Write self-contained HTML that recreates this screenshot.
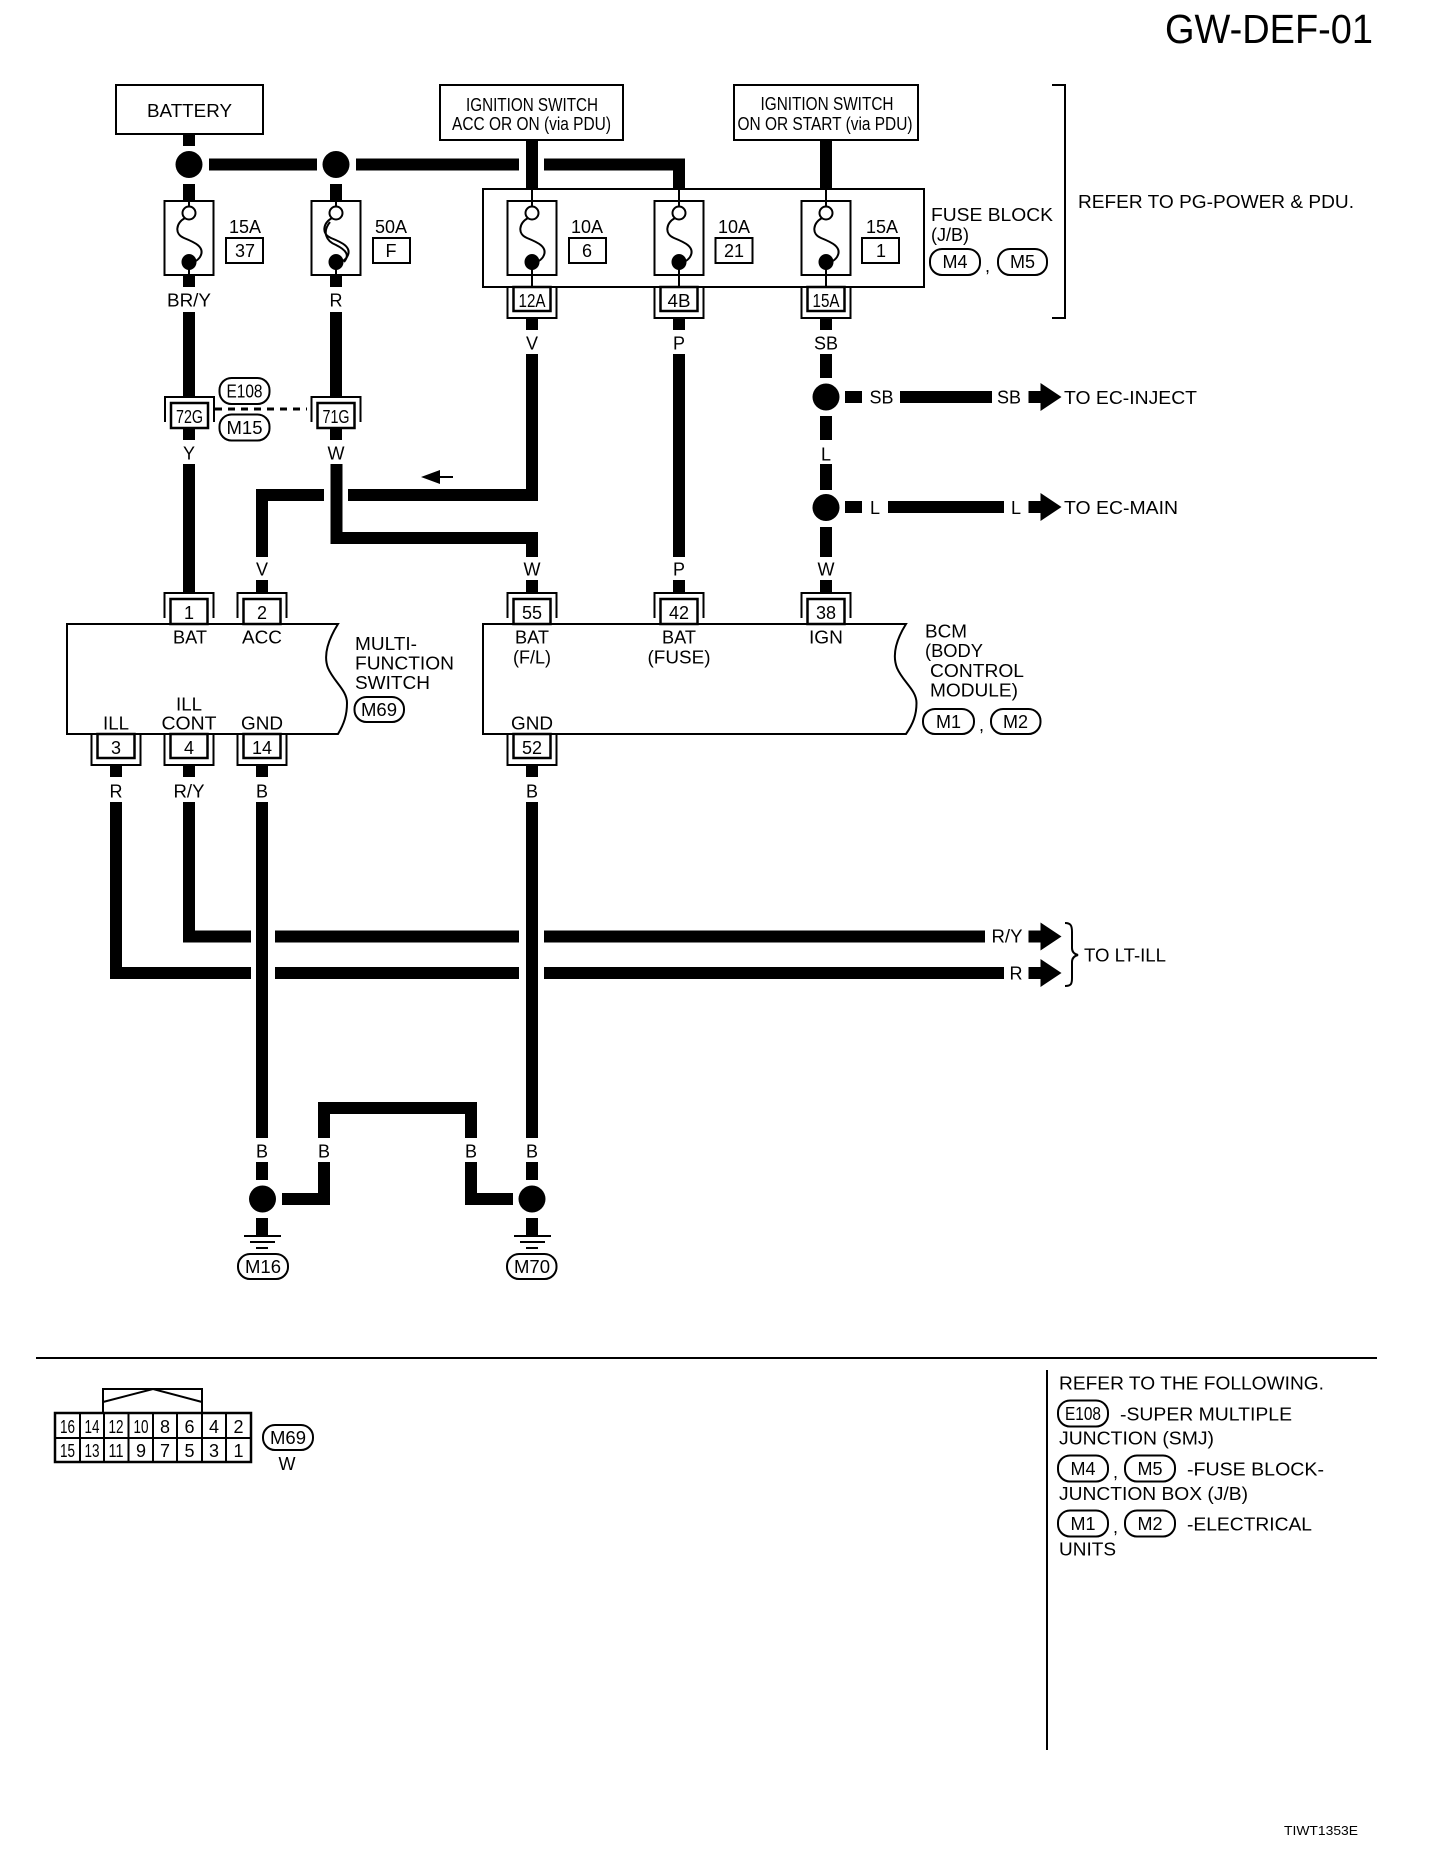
<!DOCTYPE html>
<html><head><meta charset="utf-8"><style>
html,body{margin:0;padding:0;background:#fff}
svg{display:block}
text{font-family:"Liberation Sans",sans-serif;font-size:18px;fill:#000}
.c{text-anchor:middle}
.w{fill:none;stroke:#000;stroke-width:12;stroke-linejoin:miter}
.t{fill:none;stroke:#000;stroke-width:2}
.b{fill:#fff;stroke:#000;stroke-width:2}
.k{fill:#fff;stroke:#000;stroke-width:2.5}
.s{font-size:18px}
</style></head><body>
<svg xmlns="http://www.w3.org/2000/svg" width="1440" height="1856" viewBox="0 0 1440 1856">
<defs>
<g id="fuse"><rect class="b" x="-24.5" y="0" width="49" height="74" stroke-width="2.5"/><path class="t" d="M0 0V7M0 62V74"/><circle class="b" cx="0" cy="12" r="6.5"/><ellipse cx="0" cy="61" rx="7.5" ry="8"/><path class="t" d="M-4 17C-13 22-15 33-5 37C5 41 17 46 11 56C9 59 7 60 5 61"/></g>
<g id="top"><path class="t" d="M-24.5 25V0H24.5V25"/><rect class="k" x="-18.5" y="6" width="37" height="25"/></g>
<g id="bot"><path class="t" d="M-24.5 0V31H24.5V0"/><rect class="k" x="-18.5" y="0" width="37" height="24"/></g>
<g id="arrow"><path d="M0-6H12V-14L33 0L12 14V6H0Z"/></g>
</defs>

<text x="1373" y="43" text-anchor="end" style="font-size:41px" textLength="208" lengthAdjust="spacingAndGlyphs">GW-DEF-01</text>

<!-- top boxes -->
<rect class="b" x="116" y="85" width="147" height="49"/>
<text class="c" x="189.5" y="117" textLength="85" lengthAdjust="spacingAndGlyphs">BATTERY</text>
<rect class="b" x="440" y="85" width="183" height="55"/>
<text class="c" x="532" y="111" textLength="132" lengthAdjust="spacingAndGlyphs">IGNITION SWITCH</text>
<text class="c" x="531.5" y="130" textLength="159" lengthAdjust="spacingAndGlyphs">ACC OR ON (via PDU)</text>
<rect class="b" x="734" y="85" width="184" height="55"/>
<text class="c" x="827" y="110" textLength="133" lengthAdjust="spacingAndGlyphs">IGNITION SWITCH</text>
<text class="c" x="825" y="130" textLength="175" lengthAdjust="spacingAndGlyphs">ON OR START (via PDU)</text>
<path class="t" d="M1052 85H1065V318H1052"/>
<text x="1078" y="208" textLength="276" lengthAdjust="spacingAndGlyphs">REFER TO PG-POWER &amp; PDU.</text>

<!-- main wires -->
<path class="w" d="M189 134V146M189 184V201M189 275V287M336 184V201M336 275V287"/>
<path class="w" d="M209 164.5H317M356 164.5H519M544 164.5H679V189M532 140V189M826 140V189"/>
<rect class="b" x="483" y="189" width="441" height="98"/>
<ellipse cx="189" cy="164.5" rx="13.5" ry="13.5"/>
<ellipse cx="336" cy="164.5" rx="13.5" ry="13.5"/>

<use href="#fuse" x="189" y="201"/>
<use href="#fuse" x="336" y="201"/>
<path class="t" d="M330 222C322 232 326 241 336 245C346 250 350 255 344 262"/>
<path class="t" d="M532 189V201M679 189V201M826 189V201"/>
<use href="#fuse" x="532" y="201"/>
<use href="#fuse" x="679" y="201"/>
<use href="#fuse" x="826" y="201"/>
<path class="t" d="M532 275V287M679 275V287M826 275V287"/>

<!-- fuse labels -->
<text class="c" x="245" y="233">15A</text><rect class="b" x="226" y="238" width="37" height="25"/><text class="c" x="245" y="257">37</text>
<text class="c" x="391" y="233">50A</text><rect class="b" x="373" y="238" width="37" height="25"/><text class="c" x="391" y="257">F</text>
<text class="c" x="587" y="233">10A</text><rect class="b" x="569" y="238" width="37" height="25"/><text class="c" x="587" y="257">6</text>
<text class="c" x="734" y="233">10A</text><rect class="b" x="715.5" y="238" width="37" height="25"/><text class="c" x="734" y="257">21</text>
<text class="c" x="882" y="233">15A</text><rect class="b" x="862" y="238" width="37" height="25"/><text class="c" x="881" y="257">1</text>

<text x="931" y="221" textLength="122" lengthAdjust="spacingAndGlyphs">FUSE BLOCK</text>
<text x="931" y="241">(J/B)</text>
<rect class="b" x="930" y="249" width="50" height="26" rx="12"/><text class="c" x="955" y="268">M4</text>
<text x="985" y="272">,</text>
<rect class="b" x="998" y="249" width="49" height="26" rx="12"/><text class="c" x="1022.5" y="268">M5</text>

<!-- connectors under fuse block -->
<use href="#bot" x="532" y="287"/><text class="c s" x="532" y="307" textLength="27" lengthAdjust="spacingAndGlyphs">12A</text>
<use href="#bot" x="679" y="287"/><text class="c" x="679" y="307" textLength="23" lengthAdjust="spacingAndGlyphs">4B</text>
<use href="#bot" x="826" y="287"/><text class="c s" x="826" y="307" textLength="27" lengthAdjust="spacingAndGlyphs">15A</text>

<!-- wire colour labels row -->
<text class="c" x="189" y="306.5" textLength="44" lengthAdjust="spacingAndGlyphs">BR/Y</text>
<text class="c" x="336" y="306.5">R</text>
<text class="c" x="532" y="349.5">V</text>
<text class="c" x="679" y="349.5">P</text>
<text class="c" x="826" y="349.5">SB</text>

<path class="w" d="M189 312V397M336 312V397"/>
<path class="w" d="M532 318V330M679 318V330M826 318V330"/>
<path d="M526 354H538V501H348V489H526Z"/>
<path d="M324 489V501H268V557H256V489Z"/>
<path class="w" d="M679 354V557M826 354V378M826 416V440M826 464V490M826 527V557"/>

<!-- 72G 71G -->
<use href="#top" x="189.5" y="397"/><text class="c s" x="189.5" y="423" textLength="27" lengthAdjust="spacingAndGlyphs">72G</text>
<use href="#top" x="336" y="397"/><text class="c s" x="336" y="423" textLength="27" lengthAdjust="spacingAndGlyphs">71G</text>
<path d="M215 409H307" fill="none" stroke="#000" stroke-width="3" stroke-dasharray="7 6"/>
<rect class="b" x="219.5" y="378" width="50" height="26" rx="12"/><text class="c s" x="244.5" y="397.5" textLength="36" lengthAdjust="spacingAndGlyphs">E108</text>
<rect class="b" x="219.5" y="414.5" width="50" height="26" rx="12"/><text class="c s" x="244.5" y="434" textLength="36" lengthAdjust="spacingAndGlyphs">M15</text>
<path class="w" d="M189 428V440M336 428V440"/>
<text class="c" x="189" y="459.5">Y</text>
<text class="c" x="336" y="459.5">W</text>

<!-- SB/L lines -->
<ellipse cx="826" cy="397" rx="13.5" ry="13.5"/>
<ellipse cx="826" cy="507.5" rx="13.5" ry="13.5"/>
<text class="c" x="826" y="460.5">L</text>
<path d="M845 391H862V403H845ZM900 391H992V403H900Z"/>
<text class="c" x="881.5" y="403.5">SB</text>
<text class="c" x="1009" y="403.5">SB</text>
<use href="#arrow" x="1028.5" y="397"/>
<text x="1064" y="404" textLength="133" lengthAdjust="spacingAndGlyphs">TO EC-INJECT</text>
<path d="M845 501H862V513H845ZM888 501H1004V513H888Z"/>
<text class="c" x="875" y="514">L</text>
<text class="c" x="1016" y="514">L</text>
<use href="#arrow" x="1028.5" y="507"/>
<text x="1064" y="514" textLength="114" lengthAdjust="spacingAndGlyphs">TO EC-MAIN</text>

<!-- small arrow -->
<path d="M421 477L440 470V476H453V478H440V484Z"/>

<!-- A col, B col to modules -->
<path class="w" d="M189 464V593"/>
<path class="w" d="M336.5 464V538H532V557"/>
<text class="c" x="262" y="575.5">V</text>
<text class="c" x="532" y="575.5">W</text>
<text class="c" x="679" y="575.5">P</text>
<text class="c" x="826" y="575.5">W</text>
<path class="w" d="M262 580V593M532 580V593M679 580V593M826 580V593"/>

<!-- modules -->
<path class="b" d="M67 624H338C328 640 323 655 328 668C334 682 347 690 347 703C347 715 344 724 338 734H67Z"/>
<path class="b" d="M483 624H906C896 640 892 655 897 668C903 682 916.5 690 916.5 703C916.5 715 913 724 906 734H483Z"/>

<use href="#top" x="189" y="593"/><text class="c" x="189" y="619">1</text>
<use href="#top" x="262" y="593"/><text class="c" x="262" y="619">2</text>
<use href="#top" x="532" y="593"/><text class="c" x="532" y="619">55</text>
<use href="#top" x="679" y="593"/><text class="c" x="679" y="619">42</text>
<use href="#top" x="826" y="593"/><text class="c" x="826" y="619">38</text>
<path d="M67 624H338M483 624H906" stroke="#000" stroke-width="2"/>

<text class="c" x="190" y="643.5" textLength="34" lengthAdjust="spacingAndGlyphs">BAT</text>
<text class="c" x="262" y="643.5" textLength="40" lengthAdjust="spacingAndGlyphs">ACC</text>
<text class="c" x="532" y="643.5" textLength="34" lengthAdjust="spacingAndGlyphs">BAT</text>
<text class="c" x="532" y="663.5">(F/L)</text>
<text class="c" x="679" y="643.5" textLength="34" lengthAdjust="spacingAndGlyphs">BAT</text>
<text class="c" x="679" y="663.5" textLength="63" lengthAdjust="spacingAndGlyphs">(FUSE)</text>
<text class="c" x="826" y="643.5" textLength="34" lengthAdjust="spacingAndGlyphs">IGN</text>
<text class="c" x="116" y="729.5" textLength="26" lengthAdjust="spacingAndGlyphs">ILL</text>
<text class="c" x="189" y="710.5" textLength="26" lengthAdjust="spacingAndGlyphs">ILL</text>
<text class="c" x="189" y="729.5" textLength="55" lengthAdjust="spacingAndGlyphs">CONT</text>
<text class="c" x="262" y="729.5" textLength="42" lengthAdjust="spacingAndGlyphs">GND</text>
<text class="c" x="532" y="729.5" textLength="42" lengthAdjust="spacingAndGlyphs">GND</text>

<text x="355" y="650" textLength="62" lengthAdjust="spacingAndGlyphs">MULTI-</text>
<text x="355" y="669.5" textLength="99" lengthAdjust="spacingAndGlyphs">FUNCTION</text>
<text x="355" y="689" textLength="75" lengthAdjust="spacingAndGlyphs">SWITCH</text>
<rect class="b" x="354.5" y="697" width="49.5" height="25" rx="12"/><text class="c s" x="379" y="716" textLength="36" lengthAdjust="spacingAndGlyphs">M69</text>

<text x="925" y="637.5" textLength="42" lengthAdjust="spacingAndGlyphs">BCM</text>
<text x="925" y="657" textLength="58" lengthAdjust="spacingAndGlyphs">(BODY</text>
<text x="930" y="677" textLength="94" lengthAdjust="spacingAndGlyphs">CONTROL</text>
<text x="930" y="696.5" textLength="88" lengthAdjust="spacingAndGlyphs">MODULE)</text>
<rect class="b" x="923" y="709" width="51" height="25" rx="12"/><text class="c" x="948.5" y="728">M1</text>
<text x="979" y="731">,</text>
<rect class="b" x="991" y="709" width="49.5" height="25" rx="12"/><text class="c" x="1015.5" y="728">M2</text>

<!-- lower connectors -->
<use href="#bot" x="116" y="734"/><text class="c" x="116" y="754">3</text>
<use href="#bot" x="189" y="734"/><text class="c" x="189" y="754">4</text>
<use href="#bot" x="262" y="734"/><text class="c" x="262" y="754">14</text>
<use href="#bot" x="532" y="734"/><text class="c" x="532" y="754">52</text>
<path class="w" d="M116 765V777M189 765V777M262 765V777M532 765V777"/>
<text class="c" x="116" y="797.5">R</text>
<text class="c" x="189" y="797.5" textLength="31" lengthAdjust="spacingAndGlyphs">R/Y</text>
<text class="c" x="262" y="797.5">B</text>
<text class="c" x="532" y="797.5">B</text>

<path class="w" d="M262 802V1138M532 802V1138"/>
<path class="w" d="M189 802V936.5H251M275 936.5H519M544 936.5H985"/>
<path class="w" d="M116 802V973H251M275 973H519M544 973H1004"/>
<text class="c" x="1007" y="942.5" textLength="31" lengthAdjust="spacingAndGlyphs">R/Y</text>
<text class="c" x="1016" y="979.5">R</text>
<use href="#arrow" x="1028.5" y="936.5"/>
<use href="#arrow" x="1028.5" y="973"/>
<path class="t" d="M1065 923C1071 923 1072 926 1072 932V948C1072 952 1074 954 1078 955C1074 956 1072 958 1072 962V978C1072 984 1071 986 1065 986"/>
<text x="1084" y="961.5" textLength="82" lengthAdjust="spacingAndGlyphs">TO LT-ILL</text>

<!-- ground -->
<path class="w" d="M262 1162V1180M532 1162V1180M262 1218V1236M532 1218V1236"/>
<path class="w" d="M282 1199H324V1162M324 1138V1108H471V1138M471 1162V1199H513"/>
<ellipse cx="262.5" cy="1199" rx="13.5" ry="13.5"/>
<ellipse cx="532" cy="1199" rx="13.5" ry="13.5"/>
<text class="c" x="262" y="1157.5">B</text><text class="c" x="324" y="1157.5">B</text><text class="c" x="471" y="1157.5">B</text><text class="c" x="532" y="1157.5">B</text>
<path class="t" d="M244 1236H281M250 1242H275M256 1248H268M514 1236H551M520 1242H545M526 1248H538"/>
<rect class="b" x="238" y="1254" width="50" height="25" rx="12"/><text class="c s" x="263" y="1273" textLength="36" lengthAdjust="spacingAndGlyphs">M16</text>
<rect class="b" x="507" y="1254" width="49.5" height="25" rx="12"/><text class="c s" x="532" y="1273" textLength="36" lengthAdjust="spacingAndGlyphs">M70</text>

<!-- separators -->
<path class="t" d="M36 1358H1377M1047 1370V1750"/>

<!-- connector face -->
<path class="t" d="M103 1413V1389H202V1413M103 1402L153 1389L202 1402"/>
<rect x="55" y="1413" width="196" height="49" fill="#fff" stroke="#000" stroke-width="2.5"/>
<path class="t" d="M55 1438H251M80 1413V1462M104 1413V1462M128.5 1413V1462M153 1413V1462M177 1413V1462M202 1413V1462M226 1413V1462"/>
<g class="c">
<text class="c s" x="67.5" y="1433" textLength="15" lengthAdjust="spacingAndGlyphs">16</text><text class="c s" x="92" y="1433" textLength="15" lengthAdjust="spacingAndGlyphs">14</text><text class="c s" x="116" y="1433" textLength="15" lengthAdjust="spacingAndGlyphs">12</text><text class="c s" x="141" y="1433" textLength="15" lengthAdjust="spacingAndGlyphs">10</text><text class="c s" x="165" y="1433">8</text><text class="c s" x="189.5" y="1433">6</text><text class="c s" x="214" y="1433">4</text><text class="c s" x="238.5" y="1433">2</text>
<text class="c s" x="67.5" y="1457" textLength="15" lengthAdjust="spacingAndGlyphs">15</text><text class="c s" x="92" y="1457" textLength="15" lengthAdjust="spacingAndGlyphs">13</text><text class="c s" x="116" y="1457" textLength="15" lengthAdjust="spacingAndGlyphs">11</text><text class="c s" x="141" y="1457">9</text><text class="c s" x="165" y="1457">7</text><text class="c s" x="189.5" y="1457">5</text><text class="c s" x="214" y="1457">3</text><text class="c s" x="238.5" y="1457">1</text>
</g>
<rect class="b" x="263" y="1425" width="50" height="25" rx="12"/><text class="c s" x="288" y="1444" textLength="36" lengthAdjust="spacingAndGlyphs">M69</text>
<text class="c" x="287" y="1470">W</text>

<!-- notes -->
<text x="1059" y="1389.5" textLength="265" lengthAdjust="spacingAndGlyphs">REFER TO THE FOLLOWING.</text>
<rect class="b" x="1058" y="1400.5" width="50" height="26" rx="12"/><text class="c s" x="1083" y="1420" textLength="36" lengthAdjust="spacingAndGlyphs">E108</text>
<text x="1120" y="1420.5" textLength="172" lengthAdjust="spacingAndGlyphs">-SUPER MULTIPLE</text>
<text x="1059" y="1444.5" textLength="155" lengthAdjust="spacingAndGlyphs">JUNCTION (SMJ)</text>
<rect class="b" x="1058" y="1455.5" width="50" height="26" rx="12"/><text class="c" x="1083" y="1475">M4</text>
<text x="1113" y="1478">,</text>
<rect class="b" x="1125" y="1455.5" width="50" height="26" rx="12"/><text class="c" x="1150" y="1475">M5</text>
<text x="1187" y="1475.5" textLength="137" lengthAdjust="spacingAndGlyphs">-FUSE BLOCK-</text>
<text x="1059" y="1500" textLength="189" lengthAdjust="spacingAndGlyphs">JUNCTION BOX (J/B)</text>
<rect class="b" x="1058" y="1510.5" width="50" height="26" rx="12"/><text class="c" x="1083" y="1530">M1</text>
<text x="1113" y="1533">,</text>
<rect class="b" x="1125" y="1510.5" width="50" height="26" rx="12"/><text class="c" x="1150" y="1530">M2</text>
<text x="1187" y="1530.5" textLength="125" lengthAdjust="spacingAndGlyphs">-ELECTRICAL</text>
<text x="1059" y="1555.5" textLength="57" lengthAdjust="spacingAndGlyphs">UNITS</text>
<text x="1284" y="1835" style="font-size:13px" textLength="74" lengthAdjust="spacingAndGlyphs">TIWT1353E</text>
</svg>
</body></html>
